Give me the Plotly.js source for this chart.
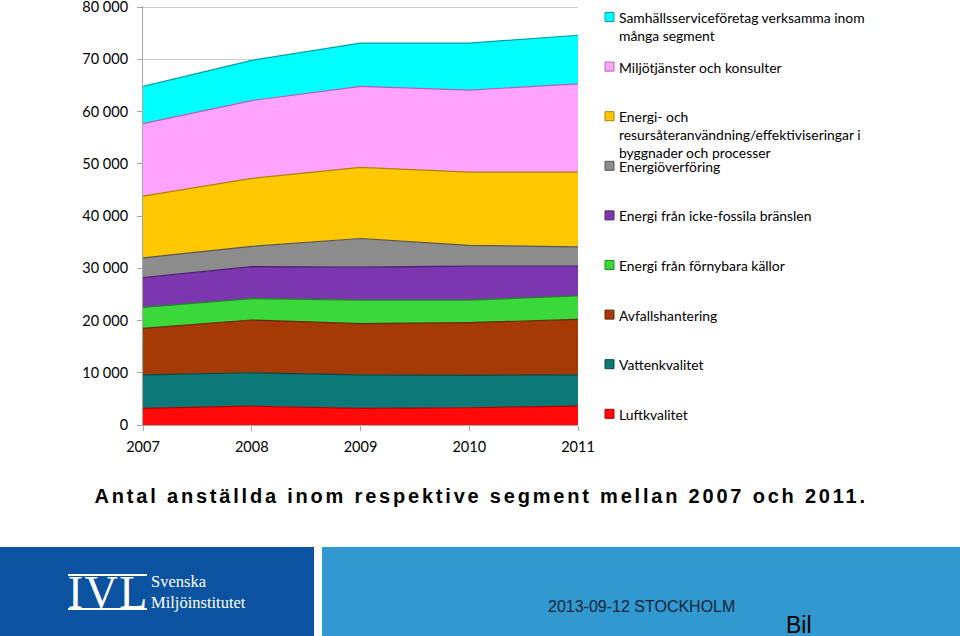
<!DOCTYPE html>
<html>
<head>
<meta charset="utf-8">
<script src="https://cdn.plot.ly/plotly-3.0.1.min.js"></script>
<style>
  html, body { margin: 0; padding: 0; background: #ffffff; }
  #chart { width: 960px; height: 636px; }
  .annotation[data-index="9"] text { letter-spacing: 2.8px; }
  .annotation[data-index="10"] text { letter-spacing: 1.5px; }
</style>
</head>
<body>
<div id="chart"></div>
<script>
// ---- Data ----
const years = [2007, 2008, 2009, 2010, 2011];
const yTickVals = [0, 10000, 20000, 30000, 40000, 50000, 60000, 70000, 80000];

const seriesNames = [
  'Luftkvalitet',
  'Vattenkvalitet',
  'Avfallshantering',
  'Energi från förnybara källor',
  'Energi från icke-fossila bränslen',
  'Energiöverföring',
  'Energi- och<br>resursåteranvändning/effektiviseringar i<br>byggnader och processer',
  'Miljötjänster och konsulter',
  'Samhällsserviceföretag verksamma inom<br>många segment'
];

const luftkvalitet      = [3200, 3600, 3200, 3300, 3600];
const vattenkvalitet    = [6400, 6400, 6400, 6200, 6000];
const avfallshantering  = [8900, 10100, 9800, 10100, 10600];
const fornybara         = [4000, 4100, 4500, 4300, 4500];
const ickeFossila       = [5700, 6100, 6300, 6500, 5700];
const energioverforing  = [3800, 3900, 5500, 4000, 3700];
const energiResurs      = [11800, 13000, 13600, 14000, 14300];
const miljotjanster     = [13900, 14900, 15500, 15700, 16900];
const samhallsservice   = [7100, 7700, 8300, 9000, 9300];

const seriesValues = [luftkvalitet, vattenkvalitet, avfallshantering, fornybara,
  ickeFossila, energioverforing, energiResurs, miljotjanster, samhallsservice];

const fillColors = ['#ff0a0a', '#0c7878', '#a63a06', '#3ad83a', '#7b36b0',
  '#8c8c8c', '#ffc800', '#ffa3ff', '#00ffff'];
const edgeColors = ['#b00000', '#064848', '#6a2403', '#1f8a1f', '#4c1f70',
  '#555555', '#a88400', '#b060b0', '#00a0a8'];

// ---- Geometry helpers (pixel -> paper) ----
const W = 960, H = 636;
const M = { l: 143, r: 382, t: 6, b: 211 };
const PW = W - M.l - M.r, PH = H - M.t - M.b;
const px = x => (x - M.l) / PW;
const py = y => (H - M.b - y) / PH;

// ---- Traces ----
const traces = seriesNames.map((name, i) => ({
  type: 'scatter',
  mode: 'lines',
  x: years,
  y: seriesValues[i],
  name: name,
  stackgroup: 'one',
  fillcolor: fillColors[i],
  line: { color: edgeColors[i], width: 1.2 },
  hoverinfo: 'skip',
  showlegend: false
}));

// ---- Manual legend (Excel-style, evenly spaced, reversed order) ----
const shapes = [];
const annotations = [];
const legendTop = 17, legendStep = 49.6;
const legendOrder = seriesNames.map((_, i) => seriesNames.length - 1 - i);
legendOrder.forEach((si, k) => {
  const cy = legendTop + legendStep * k;
  shapes.push({
    type: 'rect', xref: 'paper', yref: 'paper',
    x0: px(605), x1: px(614), y0: py(cy + 4.5), y1: py(cy - 4.5),
    fillcolor: fillColors[si], line: { color: edgeColors[si], width: 1 }
  });
  annotations.push({
    xref: 'paper', yref: 'paper', x: px(617), y: py(cy - 10),
    xanchor: 'left', yanchor: 'top', align: 'left', showarrow: false,
    text: seriesNames[si],
    font: { family: 'Lato, "Open Sans", sans-serif', size: 13.9, color: '#000000' }
  });
});

// ---- Caption ----
annotations.push({
  xref: 'paper', yref: 'paper', x: px(481), y: py(496),
  xanchor: 'center', yanchor: 'middle', showarrow: false,
  text: 'Antal anställda inom respektive segment mellan 2007 och 2011.',
  font: { family: '"Liberation Sans", Arial, sans-serif', size: 20, weight: 700, color: '#000000' }
});

// ---- Footer band ----
annotations.push({
  xref: 'paper', yref: 'paper', x: px(108), y: py(592),
  xanchor: 'center', yanchor: 'middle', showarrow: false,
  text: 'IVL',
  font: { family: '"Liberation Serif", "DejaVu Serif", serif', size: 46, color: '#ffffff' }
});
shapes.push({ type: 'rect', xref: 'paper', yref: 'paper', layer: 'above',
  x0: px(0), x1: px(314), y0: py(H), y1: py(547),
  fillcolor: '#0b52a0', line: { width: 0 } });
shapes.push({ type: 'rect', xref: 'paper', yref: 'paper', layer: 'above',
  x0: px(322), x1: px(W), y0: py(H), y1: py(547),
  fillcolor: '#3199cf', line: { width: 0 } });
// logo rules
shapes.push({ type: 'line', xref: 'paper', yref: 'paper', layer: 'above',
  x0: px(68), x1: px(147), y0: py(575), y1: py(575), line: { color: '#ffffff', width: 2 } });
shapes.push({ type: 'line', xref: 'paper', yref: 'paper', layer: 'above',
  x0: px(68), x1: px(147), y0: py(609), y1: py(609), line: { color: '#ffffff', width: 2 } });

annotations.push({
  xref: 'paper', yref: 'paper', x: px(149), y: py(592),
  xanchor: 'left', yanchor: 'middle', align: 'left', showarrow: false,
  text: 'Svenska<br>Miljöinstitutet',
  font: { family: '"Liberation Serif", "DejaVu Serif", serif', size: 16.5, color: '#ffffff' }
});
annotations.push({
  xref: 'paper', yref: 'paper', x: px(641), y: py(606),
  xanchor: 'center', yanchor: 'middle', showarrow: false,
  text: '2013-09-12 STOCKHOLM',
  font: { family: '"Liberation Sans", Arial, sans-serif', size: 16, color: '#16233a' }
});
annotations.push({
  xref: 'paper', yref: 'paper', x: px(784), y: py(625),
  xanchor: 'left', yanchor: 'middle', showarrow: false,
  text: 'Bil',
  font: { family: '"Liberation Sans", Arial, sans-serif', size: 23, color: '#000000' }
});

const tickFont = { family: 'Lato, "Open Sans", sans-serif', size: 14.5, color: '#000000' };

const layout = {
  width: W, height: H,
  margin: M,
  paper_bgcolor: '#ffffff',
  plot_bgcolor: '#ffffff',
  separators: ', ',
  showlegend: false,
  xaxis: {
    type: 'linear',
    range: [years[0], years[years.length - 1]],
    tickvals: years,
    ticktext: years.map(String),
    ticks: 'outside', ticklen: 5, tickcolor: '#a6a6a6',
    showline: true, linecolor: '#a6a6a6', linewidth: 1,
    showgrid: false, zeroline: false,
    tickfont: tickFont,
    ticklabelstandoff: 4,
    ticklabeloverflow: 'allow',
    fixedrange: true
  },
  yaxis: {
    range: [0, 80200],
    tickvals: yTickVals,
    tickformat: ',.0f',
    ticks: 'outside', ticklen: 5, tickcolor: '#a6a6a6',
    showline: true, linecolor: '#a6a6a6', linewidth: 1,
    showgrid: true, gridcolor: '#cfcfcf', gridwidth: 1,
    zeroline: false,
    tickfont: tickFont,
    ticklabelstandoff: 6,
    ticklabeloverflow: 'allow',
    fixedrange: true
  },
  shapes: shapes,
  annotations: annotations
};

Plotly.newPlot('chart', traces, layout, { displayModeBar: false, staticPlot: true });
</script>
</body>
</html>
